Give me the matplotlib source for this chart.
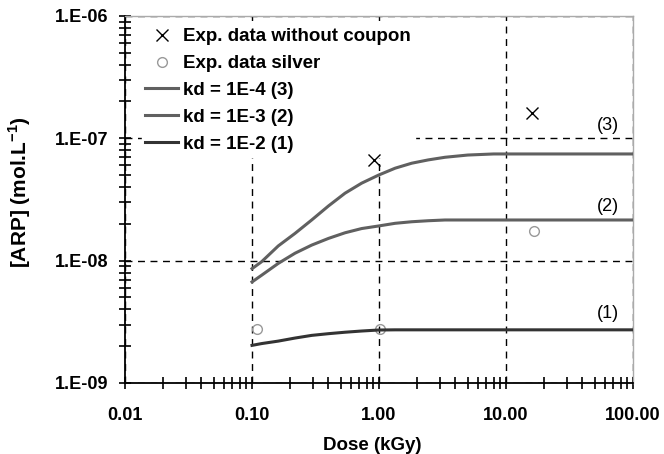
import math

import matplotlib
matplotlib.use("Agg")
import matplotlib.pyplot as plt
from matplotlib.ticker import FuncFormatter, LogLocator, NullFormatter

plt.rcParams["font.family"] = ["Liberation Sans", "DejaVu Sans"]
plt.rcParams["font.weight"] = "bold"
plt.rcParams["mathtext.fontset"] = "custom"
plt.rcParams["mathtext.rm"] = "Liberation Sans"
plt.rcParams["mathtext.bf"] = "Liberation Sans:bold"

# experimental points
dose_nocoupon = [0.92, 16.0]
arp_nocoupon = [6.7e-8, 1.6e-7]
dose_silver = [0.109, 1.02, 16.6]
arp_silver = [2.76e-9, 2.75e-9, 1.75e-8]

# model curves
dose_model = [0.1, 0.119, 0.161, 0.218, 0.295, 0.40, 0.54, 0.73, 0.99,
              1.34, 1.81, 2.44, 3.31, 5.0, 8.0, 100.0]
arp_kd3 = [8.6e-9, 9.8e-9, 1.32e-8, 1.67e-8, 2.15e-8, 2.8e-8, 3.56e-8, 4.3e-8,
           5.0e-8, 5.7e-8, 6.26e-8, 6.66e-8, 7.0e-8, 7.3e-8, 7.45e-8, 7.45e-8]
arp_kd2 = [6.7e-9, 7.6e-9, 9.5e-9, 1.15e-8, 1.34e-8, 1.52e-8, 1.69e-8, 1.83e-8,
           1.92e-8, 2.02e-8, 2.08e-8, 2.12e-8, 2.15e-8, 2.15e-8, 2.15e-8, 2.15e-8]
arp_kd1 = [2.03e-9, 2.1e-9, 2.2e-9, 2.33e-9, 2.45e-9, 2.53e-9, 2.6e-9, 2.66e-9,
           2.71e-9, 2.72e-9, 2.72e-9, 2.72e-9, 2.72e-9, 2.72e-9, 2.72e-9, 2.72e-9]

curve_tags = ["(3)", "(2)", "(1)"]
tag_y = [1.27e-7, 2.75e-8, 3.7e-9]


def main():
    fig = plt.figure(figsize=(6.64, 4.54), dpi=100)
    ax = fig.add_axes([0.1883, 0.1564, 0.765, 0.8084])
    ax.set_xscale("log")
    ax.set_yscale("log")
    ax.set_xlim(0.01, 100)
    ax.set_ylim(1e-9, 1e-6)

    ax.plot(dose_nocoupon, arp_nocoupon, ls="none", marker="x", ms=8, mew=1,
            color="black", label="Exp. data without coupon", zorder=3)
    ax.plot(dose_silver, arp_silver, ls="none", marker="o", ms=7, mfc="none",
            mec="#999999", mew=1, label="Exp. data silver", zorder=3)
    ax.plot(dose_model, arp_kd3, color="#606060", lw=2.2, label="kd = 1E-4 (3)",
            zorder=3)
    ax.plot(dose_model, arp_kd2, color="#606060", lw=2.2, label="kd = 1E-3 (2)",
            zorder=3)
    ax.plot(dose_model, arp_kd1, color="#333333", lw=2.2, label="kd = 1E-2 (1)",
            zorder=3)

    for t, y in zip(curve_tags, tag_y):
        ax.text(64, y, t, ha="center", va="center", fontsize=13,
                fontweight="normal")

    ax.grid(True, which="major", ls=(0, (5, 4)), color="black", lw=1)
    ax.set_axisbelow(True)

    ax.xaxis.set_major_formatter(FuncFormatter(lambda v, p: f"{v:.2f}"))
    ax.yaxis.set_major_formatter(
        FuncFormatter(lambda v, p: "1.E-%02d" % round(-math.log10(v))))
    ax.xaxis.set_minor_locator(LogLocator(base=10, subs=range(2, 10)))
    ax.yaxis.set_minor_locator(LogLocator(base=10, subs=range(2, 10)))
    ax.xaxis.set_minor_formatter(NullFormatter())
    ax.yaxis.set_minor_formatter(NullFormatter())
    ax.tick_params(which="both", direction="inout", length=8.5, width=1.2,
                   top=False, right=False)
    ax.tick_params(axis="y", which="major", labelsize=13, pad=8)
    ax.tick_params(axis="x", which="major", labelsize=13, pad=13)
    for lab in ax.get_xticklabels() + ax.get_yticklabels():
        lab.set_fontweight("bold")

    for s in ["left", "bottom"]:
        ax.spines[s].set_color("black")
        ax.spines[s].set_linewidth(1.3)
    for s in ["top", "right"]:
        ax.spines[s].set_color("#aaaaaa")
        ax.spines[s].set_linewidth(1)

    ax.set_xlabel("Dose (kGy)", fontsize=13.5, fontweight="bold", va="center")
    ax.xaxis.set_label_coords(0.487, -0.169)
    ax.set_ylabel("[ARP] (mol.L$^{\\mathbf{-1}}$)", fontsize=15,
                  fontweight="bold", va="center")
    ax.yaxis.set_label_coords(-0.207, 0.52)

    leg = ax.legend(loc="upper left", bbox_to_anchor=(0.016, 1.0), frameon=True,
                    facecolor="white", edgecolor="white", framealpha=1,
                    fancybox=False, handlelength=1.76, handletextpad=0.27,
                    labelspacing=0.52, borderpad=0.2, borderaxespad=0.45,
                    prop={"size": 13.5, "weight": "bold"})
    leg.set_zorder(2.5)

    fig.savefig("out.png", dpi=100)


if __name__ == "__main__":
    main()
